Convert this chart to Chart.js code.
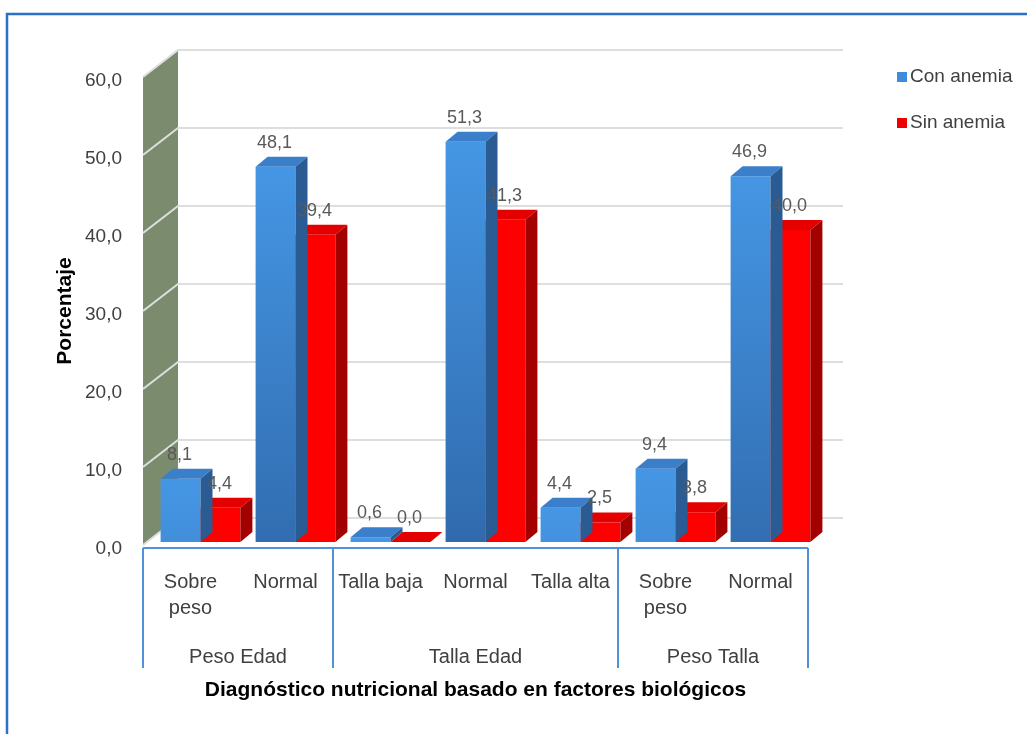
<!DOCTYPE html>
<html>
<head>
<meta charset="utf-8">
<script src="https://cdn.jsdelivr.net/npm/chart.js@4.4.1/dist/chart.umd.min.js"></script>
<style>
  html, body { margin: 0; padding: 0; background: #fff; }
  #wrap { width: 1027px; height: 734px; }
</style>
</head>
<body>
<div id="wrap"><canvas id="chart" width="1027" height="734"></canvas></div>
<script>
// datos del gráfico
const categories = [["Sobre", "peso"], "Normal", "Talla baja", "Normal", "Talla alta", ["Sobre", "peso"], "Normal"];
const groups = ["Peso Edad", "Talla Edad", "Peso Talla"];
const groupSizes = [2, 3, 2];
const seriesNames = ["Con anemia", "Sin anemia"];
const conAnemia = [8.1, 48.1, 0.6, 51.3, 4.4, 9.4, 46.9];
const sinAnemia = [4.4, 39.4, 0.0, 41.3, 2.5, 3.8, 40.0];
const yTicks = [0, 10, 20, 30, 40, 50, 60];

const FONT = "'Liberation Sans', Arial, sans-serif";
const TEXT = "#404040";

// efecto 3D
const WALL = { dx: 35, dy: -27 };
const DEPTH = { dx: 12, dy: -10 };
const SHIFT = { dx: 10, dy: -3 };

const fmt = (v) => v.toFixed(1).replace(".", ",");

function blueFill(ctx) {
  const chart = ctx.chart;
  const y = chart.scales.y;
  const top = y ? y.getPixelForValue(ctx.raw) : NaN;
  if (!Number.isFinite(top)) return "#3d8ddc";
  const g = chart.ctx.createLinearGradient(0, top, 0, top + 420);
  g.addColorStop(0, "#4596e4");
  g.addColorStop(1, "#2f68aa");
  return g;
}

const faces = [
  { top: "#3b7fcb", side: "#2a5b92" },
  { top: "#e50000", side: "#a30000" }
];

const threeD = {
  id: "threeD",
  beforeDraw(chart) {
    const ctx = chart.ctx;
    const { left, right } = chart.chartArea;
    const y = chart.scales.y;
    const yTop = y.getPixelForValue(60);
    const yBot = y.getPixelForValue(0);
    ctx.save();
    // borde exterior
    ctx.strokeStyle = "#2a72c8";
    ctx.lineWidth = 2.5;
    ctx.beginPath();
    ctx.moveTo(7, 734);
    ctx.lineTo(7, 14);
    ctx.lineTo(1027, 14);
    ctx.stroke();
    // pared lateral verde
    ctx.fillStyle = "#7b8c6e";
    ctx.beginPath();
    ctx.moveTo(left, yTop);
    ctx.lineTo(left + WALL.dx, yTop + WALL.dy);
    ctx.lineTo(left + WALL.dx, yBot + WALL.dy);
    ctx.lineTo(left, yBot);
    ctx.closePath();
    ctx.fill();
    // líneas de división
    ctx.lineWidth = 2;
    yTicks.forEach((v) => {
      const py = y.getPixelForValue(v);
      ctx.strokeStyle = "#dedede";
      ctx.beginPath();
      ctx.moveTo(left, py);
      ctx.lineTo(left + WALL.dx, py + WALL.dy);
      ctx.lineTo(right + WALL.dx, py + WALL.dy);
      ctx.stroke();
    });
    ctx.restore();
  },
  beforeDatasetsDraw(chart) {
    chart.ctx.save();
    chart.ctx.translate(SHIFT.dx, SHIFT.dy);
  },
  afterDatasetDraw(chart, args) {
    const ctx = chart.ctx;
    const c = faces[args.index];
    args.meta.data.forEach((bar) => {
      const { x, y, base, width } = bar.getProps(["x", "y", "base", "width"], true);
      const l = x - width / 2;
      const r = x + width / 2;
      const t = Math.min(y, base);
      ctx.fillStyle = c.top;
      ctx.beginPath();
      ctx.moveTo(l, t);
      ctx.lineTo(l + DEPTH.dx, t + DEPTH.dy);
      ctx.lineTo(r + DEPTH.dx, t + DEPTH.dy);
      ctx.lineTo(r, t);
      ctx.closePath();
      ctx.fill();
      ctx.fillStyle = c.side;
      ctx.beginPath();
      ctx.moveTo(r, t);
      ctx.lineTo(r + DEPTH.dx, t + DEPTH.dy);
      ctx.lineTo(r + DEPTH.dx, base + DEPTH.dy);
      ctx.lineTo(r, base);
      ctx.closePath();
      ctx.fill();
    });
  },
  afterDatasetsDraw(chart) {
    const ctx = chart.ctx;
    // etiquetas de datos
    ctx.font = "18px " + FONT;
    ctx.fillStyle = "#595959";
    ctx.textAlign = "center";
    ctx.textBaseline = "middle";
    chart.data.datasets.forEach((ds, i) => {
      chart.getDatasetMeta(i).data.forEach((bar, j) => {
        ctx.fillText(fmt(ds.data[j]), bar.x - 1, bar.y - 24);
      });
    });
    ctx.restore();
  },
  afterDraw(chart) {
    const ctx = chart.ctx;
    const { left, right, bottom } = chart.chartArea;
    const x = chart.scales.x;
    ctx.save();
    // separadores del eje de categorías
    ctx.strokeStyle = "#4f93d6";
    ctx.lineWidth = 2;
    const lineY = bottom + 3;
    ctx.beginPath();
    ctx.moveTo(left, lineY);
    ctx.lineTo(right, lineY);
    ctx.stroke();
    let idx = 0;
    const edges = [left];
    groupSizes.forEach((n) => {
      idx += n;
      edges.push(idx >= categories.length ? right : (x.getPixelForValue(idx - 1) + x.getPixelForValue(idx)) / 2);
    });
    edges.forEach((ex) => {
      ctx.beginPath();
      ctx.moveTo(ex, lineY);
      ctx.lineTo(ex, lineY + 120);
      ctx.stroke();
    });
    // etiquetas de grupo
    ctx.font = "20px " + FONT;
    ctx.fillStyle = TEXT;
    ctx.textAlign = "center";
    ctx.textBaseline = "middle";
    groups.forEach((g, i) => {
      ctx.fillText(g, (edges[i] + edges[i + 1]) / 2, 657);
    });
    // leyenda
    const colors = ["#3d8ddc", "#ee0000"];
    ctx.font = "19px " + FONT;
    ctx.textAlign = "left";
    seriesNames.forEach((name, i) => {
      const ly = 77 + i * 46;
      ctx.fillStyle = colors[i];
      ctx.fillRect(897, ly - 5, 10, 10);
      ctx.fillStyle = TEXT;
      ctx.fillText(name, 910, ly);
    });
    ctx.restore();
  }
};

new Chart(document.getElementById("chart"), {
  type: "bar",
  data: {
    labels: categories,
    datasets: [
      { label: seriesNames[0], data: conAnemia, backgroundColor: blueFill },
      { label: seriesNames[1], data: sinAnemia, backgroundColor: "#ff0000" }
    ]
  },
  options: {
    responsive: false,
    animation: false,
    devicePixelRatio: 1,
    layout: { padding: { top: 77, right: 219, bottom: 0, left: 0 } },
    datasets: { bar: { categoryPercentage: 0.84, barPercentage: 1 } },
    plugins: { legend: { display: false }, tooltip: { enabled: false } },
    scales: {
      x: {
        grid: { display: false, drawTicks: false },
        border: { display: false },
        ticks: {
          color: TEXT,
          font: { family: FONT, size: 20, lineHeight: 1.3 },
          padding: 24,
          maxRotation: 0,
          autoSkip: false
        },
        title: {
          display: true,
          text: "Diagnóstico nutricional basado en factores biológicos",
          color: "#000",
          font: { family: FONT, size: 21, weight: "bold" },
          padding: { top: 0, bottom: 31 }
        },
        afterFit: (s) => { s.height = 189; }
      },
      y: {
        min: 0,
        max: 60,
        grid: { display: false, drawTicks: false },
        border: { display: false },
        afterBuildTicks: (s) => { s.ticks = yTicks.map((v) => ({ value: v })); },
        ticks: {
          color: TEXT,
          font: { family: FONT, size: 19 },
          padding: 21,
          labelOffset: 4,
          callback: (v) => fmt(v)
        },
        title: {
          display: true,
          text: "Porcentaje",
          color: "#000",
          font: { family: FONT, size: 21, weight: "bold" },
          padding: { top: 53, bottom: 0 }
        },
        afterFit: (s) => { s.width = 143; }
      }
    }
  },
  plugins: [threeD]
});
</script>
</body>
</html>
